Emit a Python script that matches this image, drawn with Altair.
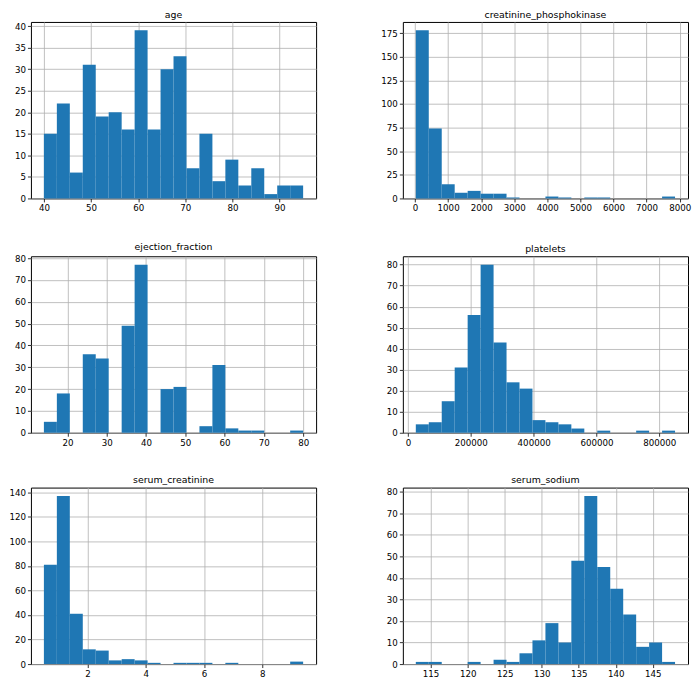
import altair as alt
import numpy as np
import pandas as pd

# ---- data (20 equal-width bins per variable) ----
age_range = [40, 95]
age_counts = [15, 22, 6, 31, 19, 20, 16, 39, 16, 30, 33, 7, 15, 4, 9, 3, 7, 1, 3, 3]
age_xticks = [40, 50, 60, 70, 80, 90]
age_yticks = [0, 5, 10, 15, 20, 25, 30, 35, 40]

cpk_range = [23, 7861]
cpk_counts = [178, 74, 15, 6, 8, 5, 5, 1, 0, 0, 2, 1, 0, 1, 1, 0, 0, 0, 0, 2]
cpk_xticks = [0, 1000, 2000, 3000, 4000, 5000, 6000, 7000, 8000]
cpk_yticks = [0, 25, 50, 75, 100, 125, 150, 175]

ef_range = [14, 80]
ef_counts = [5, 18, 0, 36, 34, 0, 49, 77, 0, 20, 21, 0, 3, 31, 2, 1, 1, 0, 0, 1]
ef_xticks = [20, 30, 40, 50, 60, 70, 80]
ef_yticks = [0, 10, 20, 30, 40, 50, 60, 70, 80]

plt_range = [25100, 850000]
plt_counts = [4, 5, 15, 31, 56, 80, 43, 24, 21, 6, 5, 4, 2, 0, 1, 0, 0, 1, 0, 1]
plt_xticks = [0, 200000, 400000, 600000, 800000]
plt_yticks = [0, 10, 20, 30, 40, 50, 60, 70, 80]

sc_range = [0.5, 9.4]
sc_counts = [81, 137, 41, 12, 11, 3, 4, 3, 1, 0, 1, 1, 1, 0, 1, 0, 0, 0, 0, 2]
sc_xticks = [2, 4, 6, 8]
sc_yticks = [0, 20, 40, 60, 80, 100, 120, 140]

ss_range = [113, 148]
ss_counts = [1, 1, 0, 0, 1, 0, 2, 1, 5, 11, 19, 10, 48, 78, 45, 35, 23, 8, 10, 1]
ss_xticks = [115, 120, 125, 130, 135, 140, 145]
ss_yticks = [0, 10, 20, 30, 40, 50, 60, 70, 80]

panels = [
    ("age", age_range, age_counts, age_xticks, age_yticks),
    ("creatinine_phosphokinase", cpk_range, cpk_counts, cpk_xticks, cpk_yticks),
    ("ejection_fraction", ef_range, ef_counts, ef_xticks, ef_yticks),
    ("platelets", plt_range, plt_counts, plt_xticks, plt_yticks),
    ("serum_creatinine", sc_range, sc_counts, sc_xticks, sc_yticks),
    ("serum_sodium", ss_range, ss_counts, ss_xticks, ss_yticks),
]

FONT = "DejaVu Sans"


def make_panel(name, rng, counts, xt, yt):
    lo, hi = rng
    edges = np.linspace(lo, hi, len(counts) + 1)
    df = pd.DataFrame({"start": edges[:-1], "end": edges[1:], "count": counts})
    pad = 0.05 * (hi - lo)
    ymax = max(counts) * 1.05
    return (
        alt.Chart(df, title=alt.TitleParams(name))
        .transform_filter("datum.count > 0")
        .mark_rect(color="#1f77b4")
        .encode(
            x=alt.X(
                "start:Q",
                scale=alt.Scale(domain=[lo - pad, hi + pad], nice=False, zero=False),
                axis=alt.Axis(values=xt, format="d", title=None),
            ),
            x2="end:Q",
            y=alt.Y(
                "count:Q",
                scale=alt.Scale(domain=[0, ymax], nice=False),
                axis=alt.Axis(values=yt, format="d", title=None),
            ),
            y2=alt.datum(0),
        )
        .properties(width=286, height=177)
    )


charts = [make_panel(*p) for p in panels]

chart = (
    alt.concat(*charts, columns=2, spacing={"row": 27, "column": 63})
    .properties(padding=0, background="white")
    .configure_axis(
        labelFont=FONT,
        labelFontSize=8.7,
        labelColor="black",
        tickColor="black",
        tickSize=3.5,
        tickWidth=0.8,
        labelPadding=2,
        gridColor="#b0b0b0",
        gridWidth=0.8,
        domain=False,
        zindex=1,
        labelOverlap=False,
        labelFlush=False,
    )
    .configure_view(stroke="black", strokeWidth=1)
    .configure_title(font=FONT, fontSize=9.4, fontWeight="normal", color="black", offset=2)
)

chart.save("out.html", embed_options={"renderer": "svg", "actions": False})
